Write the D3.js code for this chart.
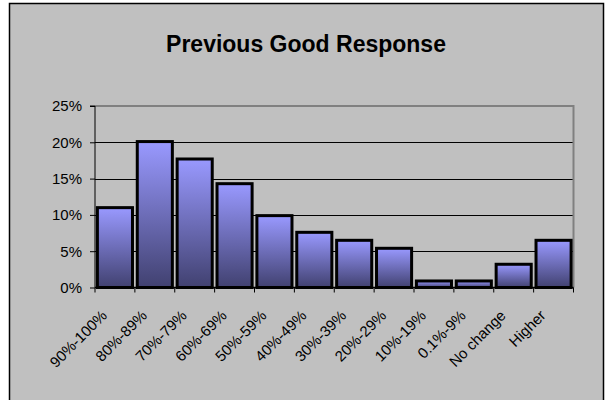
<!DOCTYPE html>
<html>
<head>
<meta charset="utf-8">
<script src="https://cdn.jsdelivr.net/npm/d3@7"></script>
<style>
html,body{margin:0;padding:0;background:#fff;}
svg{display:block;}
text{font-family:Arial,"Liberation Sans",sans-serif;fill:#000;}
</style>
</head>
<body>
<svg id="chart" width="606" height="400"></svg>
<script>
const title = "Previous Good Response";
const categories = ["90%-100%","80%-89%","70%-79%","60%-69%","50%-59%","40%-49%","30%-39%","20%-29%","10%-19%","0.1%-9%","No change","Higher"];
const values = [11.0, 20.1, 17.7, 14.3, 9.9, 7.6, 6.5, 5.4, 0.9, 0.9, 3.2, 6.5];
const yTicks = [0, 5, 10, 15, 20, 25];

const svg = d3.select("#chart");
const plot = {left: 95, right: 573.5, top: 106, bottom: 287.5};

// chart background
svg.append("rect").attr("x", 9.5).attr("y", 3.5).attr("width", 594).attr("height", 400)
  .attr("fill", "#C0C0C0").attr("stroke", "#000").attr("stroke-width", 1.5);

// title
svg.append("text").attr("x", 306).attr("y", 52).attr("text-anchor", "middle")
  .attr("font-size", 23).attr("font-weight", "bold").text(title);

const x = d3.scaleBand().domain(categories).range([plot.left, plot.right])
  .paddingInner(0.12).paddingOuter(0.06);
const y = d3.scaleLinear().domain([0, 25]).range([plot.bottom, plot.top]);

// gridlines
svg.append("g").selectAll("line").data(yTicks.filter(d => d > 0 && d < 25)).join("line")
  .attr("x1", plot.left).attr("x2", plot.right)
  .attr("y1", d => Math.round(y(d)) + 0.5).attr("y2", d => Math.round(y(d)) + 0.5)
  .attr("stroke", "#000").attr("stroke-width", 1);

// plot area border top & right (gray)
svg.append("path")
  .attr("d", `M${plot.left},${y(25)}H${plot.right}V${plot.bottom}`)
  .attr("fill", "none").attr("stroke", "#808080").attr("stroke-width", 2);

// gradient
const defs = svg.append("defs");
const grad = defs.append("linearGradient").attr("id", "barGrad")
  .attr("x1", 0).attr("y1", 0).attr("x2", 0).attr("y2", 1);
grad.append("stop").attr("offset", "0%").attr("stop-color", "#9999FF");
grad.append("stop").attr("offset", "100%").attr("stop-color", "#414170");

// bars
svg.append("g").selectAll("rect").data(values).join("rect")
  .attr("x", (d, i) => x(categories[i]))
  .attr("y", d => y(d))
  .attr("width", x.bandwidth())
  .attr("height", d => y(0) - y(d))
  .attr("fill", "url(#barGrad)")
  .attr("stroke", "#000").attr("stroke-width", 3);

// y axis
const yAxis = d3.axisLeft(y).tickValues(yTicks).tickSize(5).tickPadding(8)
  .tickFormat(d => d + "%");
const yg = svg.append("g").attr("transform", `translate(${plot.left},0)`).call(yAxis);
yg.select(".domain").attr("d", `M-5,${y(25)}H0V${y(0)}`).attr("stroke", "#000");
yg.selectAll("text").attr("font-size", 15).attr("font-family", "Arial, 'Liberation Sans', sans-serif").attr("fill", "#000");
yg.selectAll(".tick line").attr("stroke", "#000");

// x axis
const bounds = d3.range(categories.length + 1).map(i => plot.left + i * (plot.right - plot.left) / categories.length);
const xg = svg.append("g");
xg.append("line").attr("x1", plot.left).attr("x2", plot.right)
  .attr("y1", y(0)).attr("y2", y(0)).attr("stroke", "#000").attr("stroke-width", 1.5);
xg.selectAll("line.tk").data(bounds).join("line").attr("class", "tk")
  .attr("x1", d => d).attr("x2", d => d)
  .attr("y1", y(0)).attr("y2", y(0) + 5).attr("stroke", "#000");
xg.selectAll("text").data(categories).join("text")
  .attr("transform", d => `translate(${x(d) + x.bandwidth() / 2 - 7},${y(0) + 29}) rotate(-45)`)
  .attr("text-anchor", "end")
  .attr("font-size", 15)
  .text(d => d);
</script>
</body>
</html>
